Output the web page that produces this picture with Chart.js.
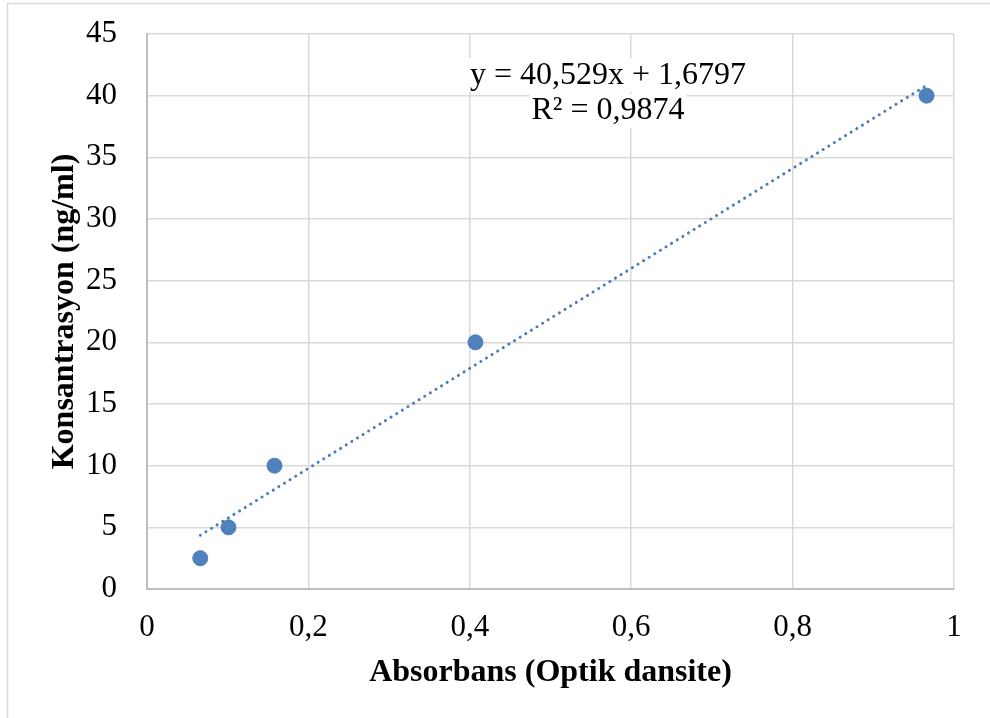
<!DOCTYPE html>
<html>
<head>
<meta charset="utf-8">
<script src="https://cdn.jsdelivr.net/npm/chart.js@4.4.1/dist/chart.umd.min.js"></script>
<style>
  html, body { margin: 0; padding: 0; background: #fff; }
  #wrap { width: 990px; height: 718px; position: relative; }
</style>
</head>
<body>
<div id="wrap"><canvas id="chartCanvas" width="990" height="718"></canvas></div>
<script>
// --- Data ---
const absorbans = [0.066, 0.101, 0.158, 0.407, 0.966];
const konsantrasyon = [2.5, 5, 10, 20, 40];

// trendline as shown on the chart
const slope = 40.529;
const intercept = 1.6797;
const rSquared = "0,9874";

const xTicks = [0, 0.2, 0.4, 0.6, 0.8, 1];
const yTicks = [0, 5, 10, 15, 20, 25, 30, 35, 40, 45];

const serif = "'Liberation Serif', 'Times New Roman', serif";
const blue = "#4f81bd";

const xMin = Math.min(...absorbans);
const xMax = Math.max(...absorbans);
const trendPoints = [
  { x: xMin, y: slope * xMin + intercept },
  { x: xMax, y: slope * xMax + intercept }
];

const comma = v => String(Number(v.toFixed(1))).replace(".", ",");
function comma3(v) { return v.toFixed(3).replace(".", ","); }
function comma4(v) { return v.toFixed(4).replace(".", ","); }

// equation label + outer frame
const extras = {
  id: "extras",
  beforeDraw(chart) {
    const ctx = chart.ctx;
    ctx.save();
    ctx.fillStyle = "#fff";
    ctx.fillRect(0, 0, chart.width, chart.height);
    ctx.strokeStyle = "#d9d9d9";
    ctx.lineWidth = 1.5;
    ctx.strokeRect(7.5, 3.5, 1000, 800);
    ctx.restore();
  },
  afterDatasetsDraw(chart) {
    const ctx = chart.ctx;
    const eq = "y = " + comma3(slope) + "x + " + comma4(intercept);
    const r2 = "R² = " + rSquared;
    ctx.save();
    ctx.font = "32px " + serif;
    ctx.textAlign = "center";
    ctx.textBaseline = "middle";
    const cx = 608;
    const w1 = ctx.measureText(eq).width;
    const w2 = ctx.measureText(r2).width;
    ctx.fillStyle = "#fff";
    ctx.fillRect(cx - w1 / 2 - 2, 58, w1 + 4, 34);
    ctx.fillRect(cx - w2 / 2 - 2, 94, w2 + 4, 34);
    ctx.fillStyle = "#000";
    ctx.fillText(eq, cx, 76);
    ctx.fillText(r2, cx, 111);
    ctx.restore();
  }
};

new Chart(document.getElementById("chartCanvas"), {
  type: "scatter",
  data: {
    datasets: [
      {
        label: "Konsantrasyon",
        data: absorbans.map((x, i) => ({ x, y: konsantrasyon[i] })),
        backgroundColor: blue,
        borderColor: blue,
        pointRadius: 7.5,
        pointHoverRadius: 7.5,
        order: 1
      },
      {
        label: "Trend",
        type: "line",
        data: trendPoints,
        borderColor: "#4a7ebb",
        borderWidth: 3,
        borderDash: [0.1, 6.5],
        borderCapStyle: "round",
        pointRadius: 0,
        fill: false,
        order: 2
      }
    ]
  },
  options: {
    responsive: false,
    animation: false,
    layout: { padding: { left: 0, top: 34, right: 36, bottom: 0 } },
    plugins: {
      legend: { display: false },
      tooltip: { enabled: false }
    },
    scales: {
      x: {
        type: "linear",
        min: 0,
        max: 1,
        afterBuildTicks: s => { s.ticks = xTicks.map(v => ({ value: v })); },
        afterFit: s => { s.height = 129; s.paddingLeft = 0; s.paddingRight = 0; },
        grid: { color: "#d9d9d9", lineWidth: 1.5, drawTicks: false },
        border: { color: "#bfbfbf", width: 2 },
        ticks: {
          padding: 20,
          color: "#000",
          font: { family: serif, size: 31 },
          callback: v => comma(v)
        },
        title: {
          display: true,
          text: "Absorbans (Optik dansite)",
          color: "#000",
          font: { family: serif, size: 32, weight: "bold" },
          padding: { top: 0, bottom: 26 }
        }
      },
      y: {
        type: "linear",
        min: 0,
        max: 45,
        afterBuildTicks: s => { s.ticks = yTicks.map(v => ({ value: v })); },
        afterFit: s => { s.width = 147; s.paddingTop = 0; s.paddingBottom = 0; },
        grid: { color: "#d9d9d9", lineWidth: 1.5, drawTicks: false },
        border: { color: "#bfbfbf", width: 2 },
        ticks: {
          padding: 30,
          color: "#000",
          font: { family: serif, size: 31 },
          callback: v => comma(v)
        },
        title: {
          display: true,
          text: "Konsantrasyon (ng/ml)",
          color: "#000",
          font: { family: serif, size: 32, weight: "bold" },
          padding: { top: 46, bottom: 0 }
        }
      }
    }
  },
  plugins: [extras]
});
</script>
</body>
</html>
